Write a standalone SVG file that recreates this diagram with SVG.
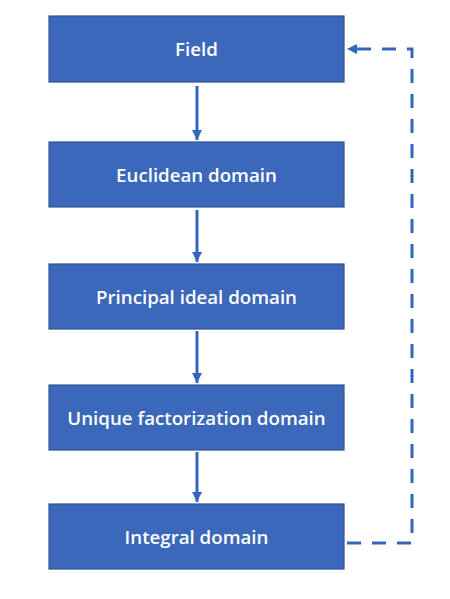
<svg xmlns="http://www.w3.org/2000/svg" width="450" height="599" viewBox="0 0 450 599">
<style>
.box{fill:#3B68BA;stroke:#2F5496;stroke-width:1.2}
.lbl{font-family:"Open Sans","Liberation Sans",sans-serif;font-size:18.7px;font-weight:600;fill:#ffffff;text-anchor:middle;dominant-baseline:central}
.arr{stroke:#3566BE;stroke-width:3;fill:none}
.dash{stroke:#3566BE;stroke-width:3;fill:none;stroke-dasharray:14 11}
</style>
<defs>
<marker id="ah" viewBox="0 0 10 10" refX="10" refY="5" markerWidth="3.4" markerHeight="3.4" markerUnits="strokeWidth" orient="auto">
<path d="M0,0 L10,5 L0,10 z" fill="#3566BE"/>
</marker>
</defs>
<rect width="450" height="599" fill="#ffffff"/>
<g id="field"><rect class="box" x="49" y="16" width="295" height="66"/><text class="lbl" x="196.5" y="48.5">Field</text></g>
<g id="euclidean"><rect class="box" x="49" y="142" width="295" height="65"/><text class="lbl" x="196.5" y="174.5">Euclidean domain</text></g>
<g id="pid"><rect class="box" x="49" y="264" width="295" height="65"/><text class="lbl" x="196.5" y="296.5">Principal ideal domain</text></g>
<g id="ufd"><rect class="box" x="49" y="385" width="295" height="65"/><text class="lbl" x="196.5" y="417.5">Unique factorization domain</text></g>
<g id="integral"><rect class="box" x="49" y="504" width="295" height="65"/><text class="lbl" x="196.5" y="536.5">Integral domain</text></g>
<g id="connectors">
<line class="arr" x1="197" y1="86" x2="197" y2="140" marker-end="url(#ah)"/>
<line class="arr" x1="197" y1="210" x2="197" y2="262" marker-end="url(#ah)"/>
<line class="arr" x1="197" y1="331" x2="197" y2="383" marker-end="url(#ah)"/>
<line class="arr" x1="197" y1="452" x2="197" y2="502" marker-end="url(#ah)"/>
<path class="dash" d="M347,543 H412 V49 H347" marker-end="url(#ah)"/>
</g>
</svg>
